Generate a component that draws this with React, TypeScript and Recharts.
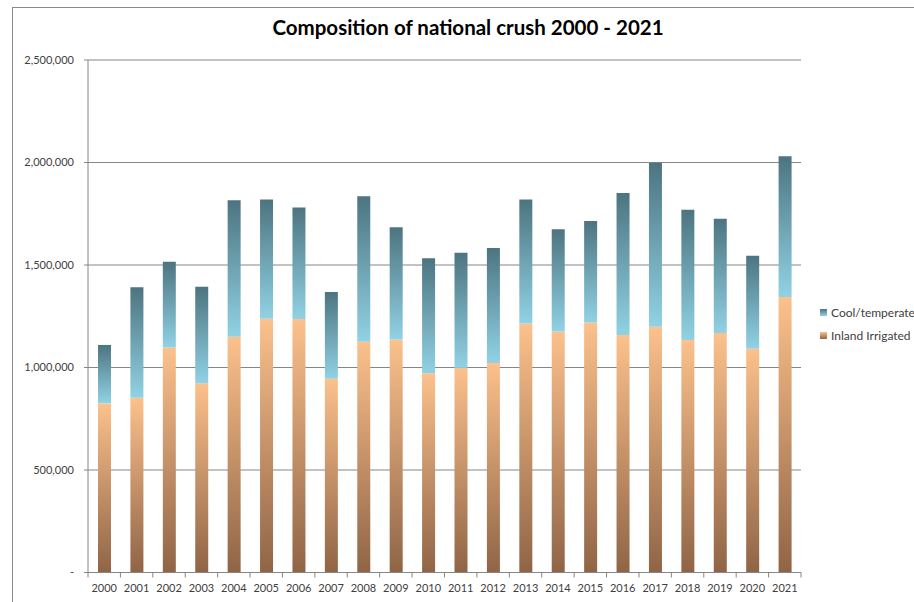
import { Bar, BarChart, CartesianGrid, Legend, XAxis, YAxis } from "recharts";

const years = [
  "2000", "2001", "2002", "2003", "2004", "2005", "2006", "2007", "2008", "2009", "2010",
  "2011", "2012", "2013", "2014", "2015", "2016", "2017", "2018", "2019", "2020", "2021",
];

// tonnes crushed
const inlandIrrigated = [
  825000, 853000, 1097000, 923000, 1150000, 1238000, 1237000, 945000, 1126000, 1136000, 972000,
  999000, 1022000, 1215000, 1176000, 1220000, 1159000, 1199000, 1134000, 1168000, 1092000, 1344000,
];
const coolTemperate = [
  285000, 538000, 419000, 471000, 666000, 582000, 544000, 423000, 709000, 548000, 561000,
  561000, 561000, 605000, 498000, 495000, 692000, 800000, 636000, 558000, 453000, 686000,
];

const yTicks = [0, 500000, 1000000, 1500000, 2000000, 2500000];

const data = years.map((year, i) => ({
  year,
  inland: inlandIrrigated[i],
  cool: coolTemperate[i],
}));

const FONT = "Lato, 'Open Sans', sans-serif";
const TEXT = "#404040";
const AXIS = "#868686";

const fmtY = (v: number) => (v === 0 ? "-" : v.toLocaleString("en-US"));

function YearTick(props: any) {
  const { x, y, payload, index, visibleTicksCount } = props;
  const half = payload?.offset ?? 16;
  const last = index === (visibleTicksCount ?? years.length) - 1;
  return (
    <g>
      <line x1={x - half} x2={x - half} y1={y} y2={y + 5} stroke={AXIS} />
      {last && <line x1={x + half} x2={x + half} y1={y} y2={y + 5} stroke={AXIS} />}
      <text x={x} y={y + 19} textAnchor="middle" fontSize={11} fill={TEXT} fontFamily={FONT}>
        {payload.value}
      </text>
    </g>
  );
}

function LegendBox() {
  const items = [
    { label: "Cool/temperate", fill: "url(#coolGrad)" },
    { label: "Inland Irrigated", fill: "url(#inlandGrad)" },
  ];
  return (
    <div style={{ fontFamily: FONT, fontSize: 12, color: TEXT, whiteSpace: "nowrap" }}>
      {items.map((it) => (
        <div key={it.label} style={{ display: "flex", alignItems: "center", height: 23 }}>
          <svg width={7} height={7} style={{ marginRight: 4, flexShrink: 0 }}>
            <rect width={7} height={7} fill={it.fill} />
          </svg>
          <span>{it.label}</span>
        </div>
      ))}
    </div>
  );
}

export default function App() {
  return (
    <div style={{ position: "absolute", left: 0, top: 0, width: 914, height: 602, background: "#fff", overflow: "hidden" }}>
      <div
        style={{
          position: "absolute",
          left: 12,
          top: 7,
          width: 920,
          height: 620,
          borderTop: "1px solid #8a8a8a",
          borderLeft: "1px solid #8a8a8a",
        }}
      />
      <div
        style={{
          position: "absolute",
          left: 0,
          top: 15,
          width: 936,
          textAlign: "center",
          fontFamily: FONT,
          fontWeight: 700,
          fontSize: 20.5,
          color: "#000",
        }}
      >
        Composition of national crush 2000 - 2021
      </div>
      <BarChart
        width={914}
        height={602}
        data={data}
        margin={{ top: 60, right: 13, bottom: 4, left: 0 }}
        barSize={13}
        style={{ position: "absolute", left: 0, top: 0 }}
      >
        <defs>
          <linearGradient id="inlandGrad" x1="0" y1="0" x2="0" y2="1">
            <stop offset="0%" stopColor="#fcc18c" />
            <stop offset="100%" stopColor="#8f6446" />
          </linearGradient>
          <linearGradient id="coolGrad" x1="0" y1="0" x2="0" y2="1">
            <stop offset="0%" stopColor="#4d7480" />
            <stop offset="100%" stopColor="#90d2e4" />
          </linearGradient>
        </defs>
        <CartesianGrid vertical={false} stroke={AXIS} />
        <XAxis
          dataKey="year"
          height={25.5}
          stroke={AXIS}
          tickLine={false}
          tickSize={0}
          tickMargin={0}
          tick={<YearTick />}
          interval={0}
        />
        <YAxis
          width={88}
          domain={[0, 2500000]}
          ticks={yTicks}
          tickFormatter={fmtY}
          stroke={AXIS}
          tickSize={4}
          tickMargin={10}
          tick={{ fontSize: 11, fill: TEXT, fontFamily: FONT }}
        />
        <Legend
          layout="vertical"
          align="right"
          verticalAlign="middle"
          content={<LegendBox />}
          wrapperStyle={{
            width: 100,
            boxSizing: "border-box",
            right: 13,
            top: 301,
            paddingLeft: 19,
            overflow: "visible",
          }}
        />
        <Bar dataKey="inland" stackId="crush" name="Inland Irrigated" fill="url(#inlandGrad)" isAnimationActive={false} />
        <Bar dataKey="cool" stackId="crush" name="Cool/temperate" fill="url(#coolGrad)" isAnimationActive={false} />
      </BarChart>
    </div>
  );
}
